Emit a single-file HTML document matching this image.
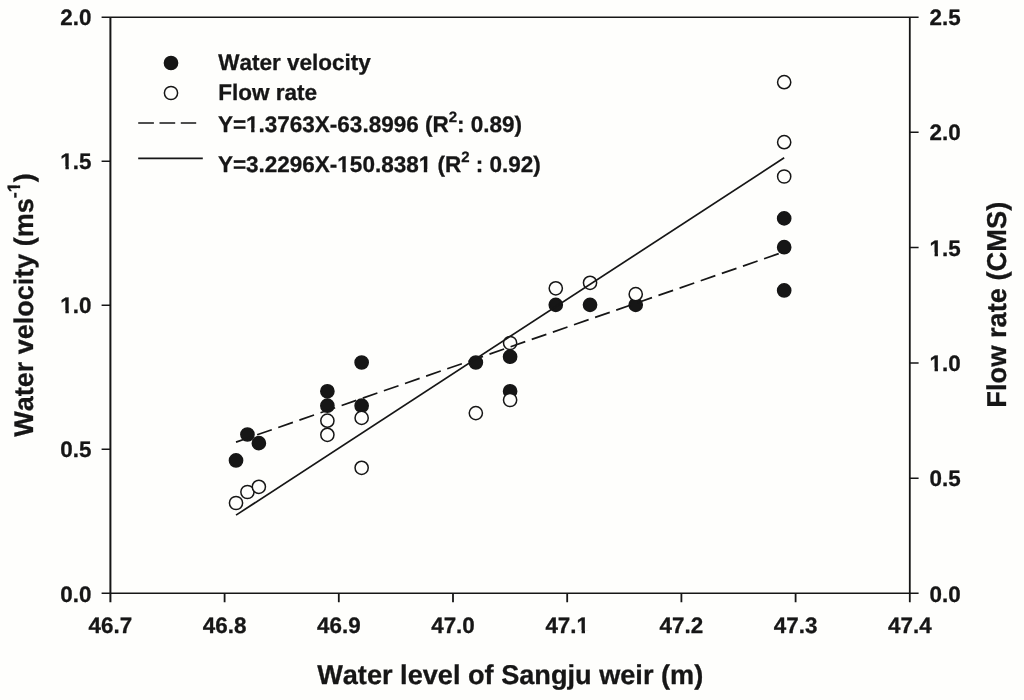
<!DOCTYPE html>
<html lang="en"><head><meta charset="utf-8"><title>Water level of Sangju weir</title>
<style>html,body{margin:0;padding:0;background:#fefefc;}body{width:1024px;height:700px;overflow:hidden;}svg{display:block;font-family:"Liberation Sans",sans-serif;font-weight:bold;fill:#161616;text-rendering:geometricPrecision;font-kerning:none;}text{stroke:#161616;stroke-width:0.3px;stroke-linejoin:round;}.ax{stroke:#161616;stroke-width:1.7;fill:none;}.tk{font-size:22.4px;}.ti{font-size:27.1px;}.lg{font-size:22.5px;}</style></head><body>
<svg width="1024" height="700" viewBox="0 0 1024 700">
<rect width="1024" height="700" fill="#fefefc"/>
<g class="ax">
<path stroke-width="1.5" d="M101.6 17.25H918.6M101.6 593.3H918.6"/>
<path stroke-width="2" d="M110.4 17.1V602.2"/>
<path stroke-width="1.8" d="M909.8 17.1V602.2"/>
<path stroke-width="1.8" d="M224.60 593.4V602.2M338.80 593.4V602.2M453.00 593.4V602.2M567.20 593.4V602.2M681.40 593.4V602.2M795.60 593.4V602.2"/>
<path stroke-width="1.5" d="M101.6 449.32H110.4M101.6 305.25H110.4M101.6 161.18H110.4M909.8 478.14H918.6M909.8 362.88H918.6M909.8 247.62H918.6M909.8 132.36H918.6"/>
</g>
<g class="tk">
<text x="110.40" y="633.4" text-anchor="middle">46.7</text>
<text x="224.60" y="633.4" text-anchor="middle">46.8</text>
<text x="338.80" y="633.4" text-anchor="middle">46.9</text>
<text x="453.00" y="633.4" text-anchor="middle">47.0</text>
<text x="567.20" y="633.4" text-anchor="middle">47.1</text>
<text x="681.40" y="633.4" text-anchor="middle">47.2</text>
<text x="795.60" y="633.4" text-anchor="middle">47.3</text>
<text x="909.80" y="633.4" text-anchor="middle">47.4</text>
<text x="91.5" y="601.50" text-anchor="end">0.0</text>
<text x="91.5" y="457.43" text-anchor="end">0.5</text>
<text x="91.5" y="313.35" text-anchor="end">1.0</text>
<text x="91.5" y="169.28" text-anchor="end">1.5</text>
<text x="91.5" y="25.20" text-anchor="end">2.0</text>
<text x="929.5" y="601.50" text-anchor="start">0.0</text>
<text x="929.5" y="486.24" text-anchor="start">0.5</text>
<text x="929.5" y="370.98" text-anchor="start">1.0</text>
<text x="929.5" y="255.72" text-anchor="start">1.5</text>
<text x="929.5" y="140.46" text-anchor="start">2.0</text>
<text x="929.5" y="25.20" text-anchor="start">2.5</text>
</g>
<g class="ti">
<text x="510.2" y="684.3" text-anchor="middle" font-size="27.15px">Water level of Sangju weir (m)</text>
<text transform="translate(33.2,305.0) rotate(-90)" text-anchor="middle" font-size="27px">Water velocity (ms<tspan dy="-13.7" font-size="18px">-1</tspan><tspan dy="13.7">)</tspan></text>
<text transform="translate(1006.2,304.7) rotate(-90)" text-anchor="middle" font-size="27.25px">Flow rate (CMS)</text>
</g>
<g stroke="#161616" stroke-width="1.5">
<circle cx="236.02" cy="460.45" r="6.6" fill="#161616"/>
<circle cx="247.44" cy="434.52" r="6.6" fill="#161616"/>
<circle cx="258.86" cy="443.16" r="6.6" fill="#161616"/>
<circle cx="327.38" cy="391.30" r="6.6" fill="#161616"/>
<circle cx="327.38" cy="405.70" r="6.6" fill="#161616"/>
<circle cx="361.64" cy="362.48" r="6.6" fill="#161616"/>
<circle cx="361.64" cy="405.70" r="6.6" fill="#161616"/>
<circle cx="475.84" cy="362.48" r="6.6" fill="#161616"/>
<circle cx="510.10" cy="356.72" r="6.6" fill="#161616"/>
<circle cx="510.10" cy="391.30" r="6.6" fill="#161616"/>
<circle cx="555.78" cy="304.85" r="6.6" fill="#161616"/>
<circle cx="590.04" cy="304.85" r="6.6" fill="#161616"/>
<circle cx="635.72" cy="304.85" r="6.6" fill="#161616"/>
<circle cx="784.18" cy="218.41" r="6.6" fill="#161616"/>
<circle cx="784.18" cy="247.22" r="6.6" fill="#161616"/>
<circle cx="784.18" cy="290.44" r="6.6" fill="#161616"/>
<circle cx="236.02" cy="503.00" r="6.6" fill="#fefefc"/>
<circle cx="247.44" cy="492.00" r="6.6" fill="#fefefc"/>
<circle cx="258.86" cy="486.80" r="6.6" fill="#fefefc"/>
<circle cx="327.38" cy="420.70" r="6.6" fill="#fefefc"/>
<circle cx="327.38" cy="434.80" r="6.6" fill="#fefefc"/>
<circle cx="361.64" cy="417.90" r="6.6" fill="#fefefc"/>
<circle cx="361.64" cy="467.80" r="6.6" fill="#fefefc"/>
<circle cx="475.84" cy="413.10" r="6.6" fill="#fefefc"/>
<circle cx="510.10" cy="343.00" r="6.6" fill="#fefefc"/>
<circle cx="510.10" cy="400.00" r="6.6" fill="#fefefc"/>
<circle cx="555.78" cy="288.30" r="6.6" fill="#fefefc"/>
<circle cx="590.04" cy="282.80" r="6.6" fill="#fefefc"/>
<circle cx="635.72" cy="294.20" r="6.6" fill="#fefefc"/>
<circle cx="784.18" cy="82.20" r="6.6" fill="#fefefc"/>
<circle cx="784.18" cy="142.20" r="6.6" fill="#fefefc"/>
<circle cx="784.18" cy="176.50" r="6.6" fill="#fefefc"/>
</g>
<path class="ax" stroke-dasharray="15.5 6.86" d="M236.02 442.12L784.18 251.76"/>
<path class="ax" d="M236.02 515.14L784.18 157.79"/>
<g stroke="#161616" stroke-width="1.5">
<circle cx="171" cy="63" r="6.6" fill="#161616"/>
<circle cx="171" cy="93" r="6.6" fill="#fefefc"/>
</g>
<path class="ax" stroke-dasharray="15.7 5.6" d="M138.2 123H196.2"/>
<path class="ax" d="M138.2 158.3H202.8"/>
<g class="lg">
<text x="218.2" y="70.3">Water velocity</text>
<text x="218.2" y="99.9">Flow rate</text>
<text x="217.9" y="131.5">Y=1.3763X-63.8996 (R<tspan dy="-10" font-size="15px">2</tspan><tspan dy="10">: 0.89)</tspan></text>
<text x="217.9" y="172.3">Y=3.2296X-150.8381 (R<tspan dy="-10" font-size="15px">2</tspan><tspan dy="10"> : 0.92)</tspan></text>
</g>
<g fill="#fefefc">
<rect x="576.74" y="630.11" width="4.87" height="4.99"/><rect x="584.98" y="630.11" width="4.38" height="4.99"/>
<rect x="60.57" y="310.06" width="4.87" height="4.99"/><rect x="68.81" y="310.06" width="4.38" height="4.99"/>
<rect x="60.57" y="165.99" width="4.87" height="4.99"/><rect x="68.81" y="165.99" width="4.38" height="4.99"/>
<rect x="929.71" y="367.69" width="4.87" height="4.99"/><rect x="937.95" y="367.69" width="4.38" height="4.99"/>
<rect x="929.71" y="252.43" width="4.87" height="4.99"/><rect x="937.95" y="252.43" width="4.38" height="4.99"/>
<g transform="translate(33.2,305.0) rotate(-90)"><rect x="112.71" y="-16.54" width="4.12" height="4.54"/><rect x="119.59" y="-16.54" width="3.69" height="4.54"/></g>
<rect x="246.26" y="128.20" width="4.88" height="5.00"/><rect x="254.53" y="128.20" width="4.40" height="5.00"/>
<rect x="337.57" y="169.00" width="4.88" height="5.00"/><rect x="345.84" y="169.00" width="4.40" height="5.00"/>
<rect x="418.91" y="169.00" width="4.88" height="5.00"/><rect x="427.19" y="169.00" width="4.40" height="5.00"/>
</g>
</svg></body></html>
